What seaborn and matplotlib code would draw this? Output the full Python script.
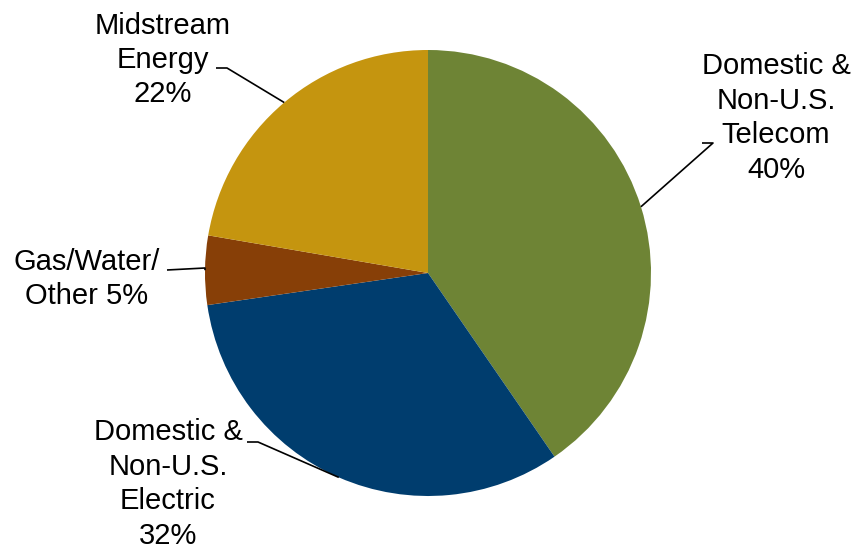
import numpy as np
import seaborn as sns
import matplotlib.pyplot as plt

# data
labels = ["Domestic &\nNon-U.S.\nTelecom\n40%", "Domestic &\nNon-U.S.\nElectric\n32%",
          "Gas/Water/\nOther 5%", "Midstream\nEnergy\n22%"]
shares = [40.4, 32.3, 5.0, 22.3]
colors = ["#6E8435", "#003D6E", "#873F07", "#C5950F"]

sns.set_theme(style="white")
plt.rcParams['font.family'] = ['Liberation Sans', 'DejaVu Sans']

W, H, DPI = 852, 544, 100
cx, cy, R = 428, 273, 223  # pie centre / radius in pixels


def px(x, y):
    # pixel position -> data coords (pie radius = 1)
    return (x - cx) / R, (cy - y) / R


fig = plt.figure(figsize=(W / DPI, H / DPI), dpi=DPI)
ax = fig.add_axes([0, 0, 1, 1])
wedges, _ = ax.pie(shares, colors=colors, startangle=90, counterclock=False,
                   radius=1, wedgeprops=dict(linewidth=0))
ax.set_xlim(-cx / R, (W - cx) / R)
ax.set_ylim((cy - H) / R, cy / R)
ax.set_aspect('equal')
ax.axis('off')

# label layout: text centre, start and end of the short horizontal leader piece
layout = [
    dict(text=(776, 118), h=[(713, 143), (702, 143)]),
    dict(text=(168, 484), h=[(258, 442), (247, 442)]),
    dict(text=(87, 279), h=[(205, 268), (167, 270)]),
    dict(text=(163, 60), h=[(227, 68), (216, 68)]),
]

for w, lab, lay in zip(wedges, labels, layout):
    mid = np.deg2rad((w.theta1 + w.theta2) / 2)
    edge = (np.cos(mid), np.sin(mid))
    p1 = px(*lay["h"][0])
    p2 = px(*lay["h"][1])
    ax.plot([edge[0], p1[0], p2[0]], [edge[1], p1[1], p2[1]], color='black', lw=1.2,
            solid_capstyle='butt')
    tx, ty = px(*lay["text"])
    ax.text(tx, ty, lab, ha='center', va='center', fontsize=21, linespacing=1.29,
            color='black')

fig.savefig("out.png", dpi=DPI)
